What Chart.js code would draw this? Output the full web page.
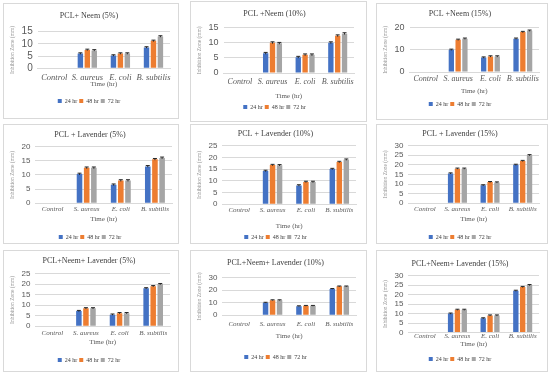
<!DOCTYPE html>
<html lang="en">
<head>
<meta charset="UTF-8">
<title>Inhibition zone panels</title>
<style>
  * { box-sizing: border-box; }
  body { margin: 0; width: 550px; height: 375px; background: #fff; position: relative; overflow: hidden; }
  .panel { position: absolute; border: 1px solid #d9d9d9; background: #fff; }
  .panel canvas { display: block; }
</style>
</head>
<body>
<script src="https://cdn.jsdelivr.net/npm/chart.js"></script>
<script>
  const categories = ['Control', 'S. aureus', 'E. coli', 'B. subtilis'];
  const seriesLabels = ['24 hr', '48 hr', '72 hr'];
  const seriesColors = ['#4472C4', '#ED7D31', '#A5A5A5'];

  // PCL + Neem
  const neem5_24 = [0, 6.0, 5.2, 8.5];
  const neem5_48 = [0, 7.5, 6.0, 11.2];
  const neem5_72 = [0, 7.3, 6.0, 13.0];
  const neem10_24 = [0, 6.5, 5.2, 10.0];
  const neem10_48 = [0, 10.0, 6.0, 12.3];
  const neem10_72 = [0, 9.8, 6.0, 13.0];
  const neem15_24 = [0, 10.0, 6.5, 15.0];
  const neem15_48 = [0, 14.5, 7.0, 18.0];
  const neem15_72 = [0, 15.0, 7.0, 18.6];

  // PCL + Lavender
  const lav5_24 = [0, 10.3, 6.5, 13.0];
  const lav5_48 = [0, 12.5, 8.0, 15.5];
  const lav5_72 = [0, 12.5, 8.0, 16.0];
  const lav10_24 = [0, 14.2, 8.0, 15.0];
  const lav10_48 = [0, 16.7, 9.5, 18.0];
  const lav10_72 = [0, 16.6, 9.5, 19.0];
  const lav15_24 = [0, 15.5, 9.3, 20.0];
  const lav15_48 = [0, 18.0, 11.0, 22.0];
  const lav15_72 = [0, 18.0, 10.8, 25.0];

  // PCL + Neem + Lavender
  const mix5_24 = [0, 7.2, 5.5, 18.0];
  const mix5_48 = [0, 8.5, 6.2, 19.0];
  const mix5_72 = [0, 8.5, 6.2, 20.0];
  const mix10_24 = [0, 10.0, 7.2, 21.0];
  const mix10_48 = [0, 12.0, 7.5, 23.0];
  const mix10_72 = [0, 12.0, 7.5, 23.0];
  const mix15_24 = [0, 10.0, 7.5, 22.0];
  const mix15_48 = [0, 12.0, 9.0, 24.0];
  const mix15_72 = [0, 12.0, 9.0, 25.0];

  const panelTitles = [
    'PCL+ Neem (5%)', 'PCL +Neem (10%)', 'PCL +Neem (15%)',
    'PCL + Lavender (5%)', 'PCL + Lavender (10%)', 'PCL + Lavender (15%)',
    'PCL+Neem+ Lavender (5%)', 'PCL+Neem+ Lavender (10%)', 'PCL+Neem+ Lavender (15%)'
  ];
  const panelSeries = [
    [neem5_24, neem5_48, neem5_72], [neem10_24, neem10_48, neem10_72], [neem15_24, neem15_48, neem15_72],
    [lav5_24, lav5_48, lav5_72], [lav10_24, lav10_48, lav10_72], [lav15_24, lav15_48, lav15_72],
    [mix5_24, mix5_48, mix5_72], [mix10_24, mix10_48, mix10_72], [mix15_24, mix15_48, mix15_72]
  ];
  const yMax = [15, 15, 20, 20, 25, 30, 25, 30, 30];
  const yStep = [5, 5, 10, 5, 5, 5, 5, 10, 5];

  // panel boxes: left, top, width, height
  const boxes = [
    [3, 3, 176, 116], [190, 1, 177, 121], [376, 3, 172, 117],
    [3, 124, 176, 120], [190, 124, 177, 120], [376, 124, 172, 120],
    [3, 250, 176, 122], [190, 250, 177, 122], [376, 250, 172, 122]
  ];
  // per-panel spacing tweaks
  const titlePad = [[7, 11], [7, 9], [5, 9], [5, 7], [4, 7], [4, 7], [5, 8], [7, 10], [8, 7]];
  const xFont = [8.5, 8, 8, 7, 7, 7, 7, 7, 7];
  const xLine = [0.8, 1.2, 1.2, 1.2, 1.2, 1.2, 1.2, 1.2, 1.0];
  const yFont = [10, 9, 9, 8, 8, 8, 8, 8, 8];
  const xTickPad = [6, 4, 2, 1.5, 2, 1.5, 3, 5, 0];
  const timePad = [[-6, 8], [1, 2], [1, 4], [0, 9], [5, 2], [0, 9], [-3, 9], [-2, 12], [0, 6]];
  const bottomPad = [4, 1, 2, -7, -7, -7, -2, 1, -1];
  const rightPad = [8, 12, 8, 6, 10, 8, 8, 10, 8];

  const errSize = 0.3;
  const errorCaps = {
    id: 'errorCaps',
    afterDatasetsDraw(chart) {
      const ctx = chart.ctx;
      const y = chart.scales.y;
      ctx.save();
      ctx.strokeStyle = '#262626';
      ctx.lineWidth = 1;
      chart.data.datasets.forEach((ds, di) => {
        chart.getDatasetMeta(di).data.forEach((bar, i) => {
          const v = ds.data[i];
          if (!v) return;
          const top = y.getPixelForValue(v + errSize);
          const bot = y.getPixelForValue(v - errSize);
          ctx.beginPath();
          ctx.moveTo(bar.x, top); ctx.lineTo(bar.x, bot);
          ctx.moveTo(bar.x - 2, top); ctx.lineTo(bar.x + 2, top);
          ctx.stroke();
        });
      });
      ctx.restore();
    }
  };

  const serif = '"Liberation Serif", "DejaVu Serif", serif';
  const sans = '"Liberation Sans", Arial, sans-serif';

  panelTitles.forEach((title, p) => {
    const [l, t, w, h] = boxes[p];
    const div = document.createElement('div');
    div.className = 'panel';
    div.style.left = l + 'px'; div.style.top = t + 'px';
    div.style.width = w + 'px'; div.style.height = h + 'px';
    const canvas = document.createElement('canvas');
    canvas.width = w - 2; canvas.height = h - 2;
    div.appendChild(canvas);
    document.body.appendChild(div);

    new Chart(canvas.getContext('2d'), {
      type: 'bar',
      data: {
        labels: categories,
        datasets: seriesLabels.map((lab, s) => ({
          label: lab,
          data: panelSeries[p][s],
          backgroundColor: seriesColors[s],
          categoryPercentage: 0.63,
          barPercentage: 0.78
        }))
      },
      options: {
        responsive: false,
        animation: false,
        layout: { padding: { left: 4, right: rightPad[p], top: 0, bottom: bottomPad[p] } },
        plugins: {
          title: {
            display: true, text: title, color: '#404040',
            font: { family: serif, size: 8, weight: 'normal' },
            padding: { top: titlePad[p][0], bottom: titlePad[p][1] }
          },
          legend: {
            position: 'bottom',
            labels: {
              boxWidth: 4, boxHeight: 4, padding: 2, color: '#404040',
              font: { family: serif, size: 6 }
            }
          },
          tooltip: { enabled: false }
        },
        scales: {
          x: {
            grid: { display: false, drawTicks: false },
            border: { color: '#d9d9d9' },
            ticks: {
              color: '#595959', font: { family: serif, size: xFont[p], style: 'italic', lineHeight: xLine[p] },
              padding: xTickPad[p], maxRotation: 0, minRotation: 0, autoSkip: false
            },
            title: {
              display: true, text: 'Time (hr)', color: '#595959',
              font: { family: serif, size: 7, lineHeight: p === 0 ? 1 : 1.2 },
              padding: { top: timePad[p][0], bottom: timePad[p][1] }
            }
          },
          y: {
            min: 0, max: yMax[p],
            grid: { color: '#d9d9d9', drawTicks: false },
            border: { display: false },
            ticks: { stepSize: yStep[p], autoSkip: false, color: '#595959', font: { family: sans, size: yFont[p] }, padding: 5 },
            title: { display: true, text: 'Inhibition Zone (mm)', color: '#8c8c8c', font: { family: serif, size: 5.5 }, padding: 1 }
          }
        }
      },
      plugins: [errorCaps]
    });
  });
</script>
</body>
</html>
